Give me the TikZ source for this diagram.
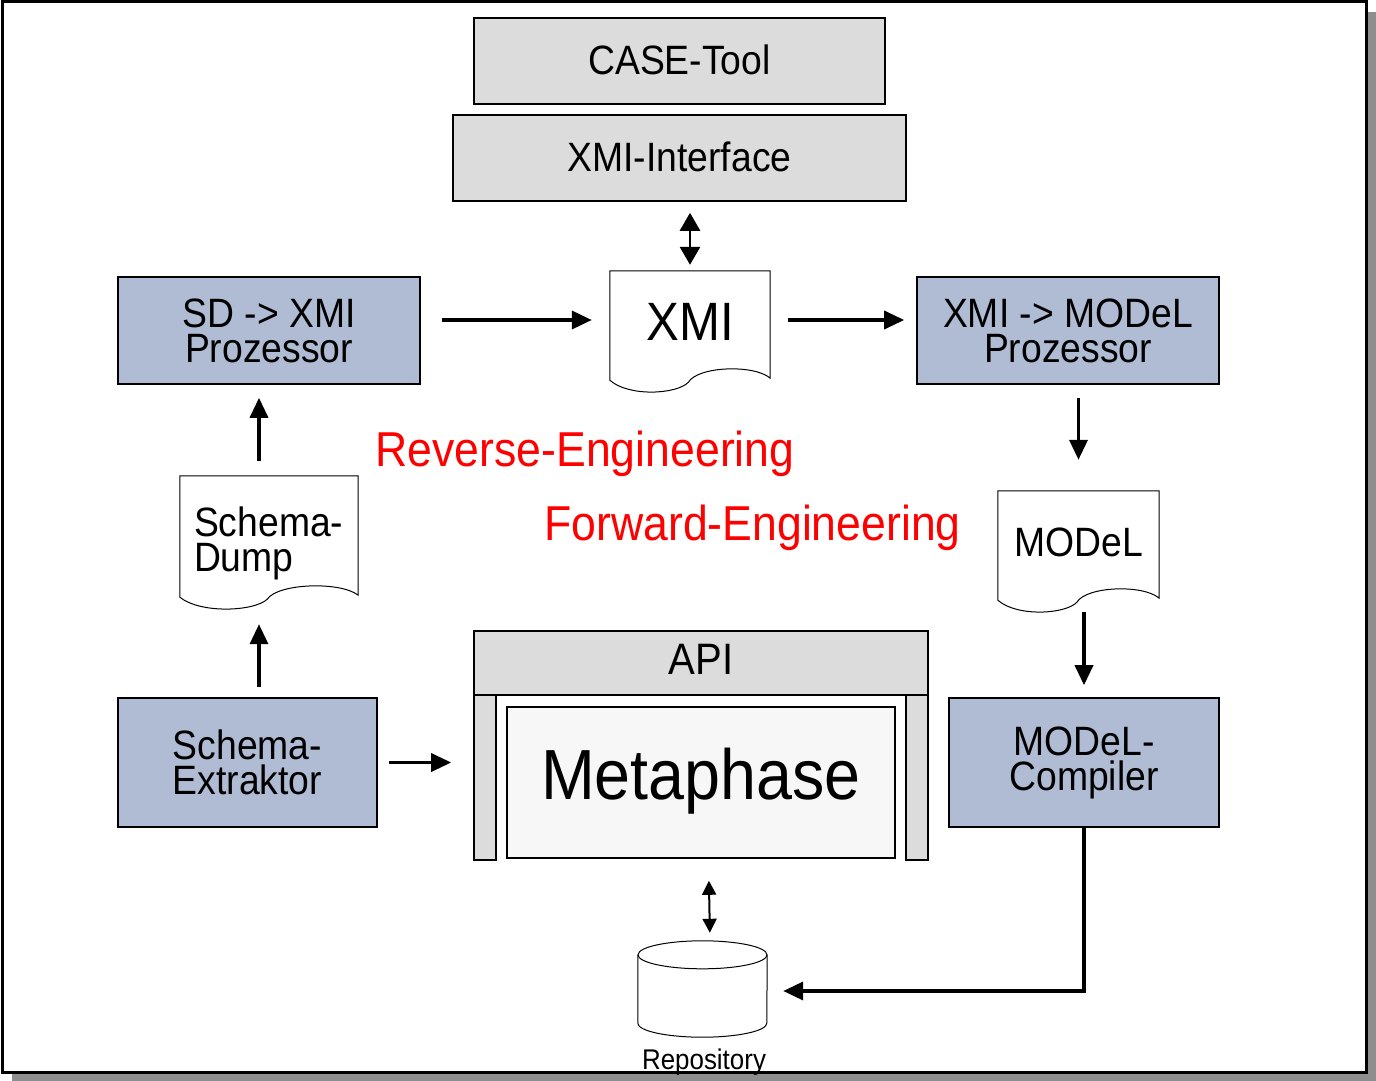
\documentclass[tikz,border=0pt]{standalone}
\usepackage{fontspec}
\setmainfont[FakeStretch=0.91]{Liberation Sans}
\usetikzlibrary{arrows.meta,calc}
\definecolor{boxblue}{HTML}{B0BCD4}
\definecolor{boxgray}{HTML}{DCDCDC}
\definecolor{innergray}{HTML}{F7F7F7}
\definecolor{shadowgray}{HTML}{8E8E8E}
\newcommand\fsz[2]{\fontsize{#1}{#2}\selectfont}
\newcommand\docoutline[1]{%
  \draw[docline] (#1.south west) -- (#1.north west) -- (#1.north east) -- ($(#1.south east)+(0,-2)$)
    .. controls ($(#1.south west)!0.9!(#1.south east)+(0,-16)$) and ($(#1.south west)!0.55!(#1.south east)+(0,-14)$) .. ($(#1.south west)!0.49!(#1.south east)+(0,2)$)
    .. controls ($(#1.south west)!0.42!(#1.south east)+(0,14)$) and ($(#1.south west)!0.12!(#1.south east)+(0,17)$) .. (#1.south west) -- cycle;}
\tikzset{
  box/.style={draw=black, line width=1.6pt, inner sep=0pt, align=center, font=\fsz{41}{35}},
  graybox/.style={box, fill=boxgray},
  bluebox/.style={box, fill=boxblue},
  docnode/.style={inner sep=0pt, align=center, font=\fsz{41}{35}},
  docline/.style={draw=black, line width=1pt},
  arr/.style={line width=3.5pt, -{Triangle[length=20pt,width=18pt]}},
  darr/.style={line width=2.8pt, {Triangle[length=18pt,width=20pt]}-{Triangle[length=18pt,width=20pt]}},
  darrs/.style={line width=2pt, {Triangle[length=14pt,width=14pt]}-{Triangle[length=14pt,width=14pt]}},
  redtext/.style={text=red, inner sep=0pt, font=\fsz{49}{50}},
}
\begin{document}
\begin{tikzpicture}[x=1pt,y=-1pt]
\useasboundingbox (0,0) rectangle (1376,1081);
% frame with shadow
\fill[shadowgray] (12,12) rectangle (1376,1081);
\draw[line width=3pt, fill=white] (2,2) rectangle (1366,1072);

% top boxes
\node[graybox, minimum width=411pt, minimum height=86pt] (case) at (679.5,61) {\raisebox{3pt}{CASE-Tool}};
\node[graybox, minimum width=453pt, minimum height=86pt] (xmiint) at (679.5,158) {\raisebox{3pt}{XMI-Interface}};

% processors
\node[bluebox, minimum width=302pt, minimum height=107pt] (sd) at (269,330.5) {SD -> XMI\\Prozessor};
\node[bluebox, minimum width=302pt, minimum height=107pt] (x2m) at (1068,330.5) {XMI -> MODeL\\Prozessor};

% documents
\node[docnode, minimum width=160pt, minimum height=109pt] (xmi) at (690,325.5) {\fsz{54}{54}\raisebox{8pt}{XMI}};
\docoutline{xmi}
\node[docnode, minimum width=178pt, minimum height=121pt] (dump) at (269,536.5) {\raisebox{-13pt}[0pt][0pt]{\parbox{150pt}{\raggedright Schema-\\Dump}}};
\docoutline{dump}
\node[docnode, minimum width=161pt, minimum height=109pt] (model) at (1078.5,545.5) {\raisebox{7pt}{MODeL}};
\docoutline{model}

% bottom boxes
\node[bluebox, minimum width=259pt, minimum height=129pt] (ext) at (247.5,762.5) {\raisebox{3pt}{\parbox{250pt}{\centering Schema-\\Extraktor}}};
\node[bluebox, minimum width=270pt, minimum height=129pt] (comp) at (1084,762.5) {MODeL-\\Compiler};

% API / Metaphase
\node[graybox, minimum width=454pt, minimum height=64pt, font=\fsz{44}{44}] (api) at (701,663) {\raisebox{7pt}{API}};
\node[graybox, minimum width=22pt, minimum height=165pt] (lpil) at (485,777.5) {};
\node[graybox, minimum width=22pt, minimum height=165pt] (rpil) at (917,777.5) {};
\node[box, fill=innergray, minimum width=388pt, minimum height=151pt, font=\fsz{71}{71}] (meta) at (701,782.5) {\raisebox{18pt}{Metaphase}};

% repository
\node[minimum width=129pt, minimum height=96pt, inner sep=0pt] (repo) at (702.5,989) {};
\draw[line width=1pt, fill=white] ($(repo.north west)+(0,14)$) -- ($(repo.south west)+(0,-14)$)
   arc[start angle=180, end angle=360, x radius=64.5pt, y radius=14pt] -- ($(repo.north east)+(0,14)$);
\draw[line width=1pt] ($(repo.north)+(0,14)$) ellipse [x radius=64.5pt, y radius=14pt];
\node[inner sep=0pt, font=\fsz{28.5}{30}] (repotext) at (704,1062) {Repository};

% red labels
\node[redtext] (rev) at (585,454) {Reverse-Engineering};
\node[redtext] (fwd) at (752.5,528) {Forward-Engineering};

% connectors
\draw[darr, shorten <=11pt, shorten >=6pt] (xmiint.south -| xmi.north) -- (xmi.north);
\draw[arr, shorten <=21pt, shorten >=18pt] ([yshift=10.5pt]sd.east) -- ([yshift=10.5pt]sd.east -| xmi.west);
\draw[arr, shorten <=18pt, shorten >=12pt] ([yshift=5.5pt]xmi.east) -- ([yshift=5.5pt]xmi.east -| x2m.west);
\draw[arr, shorten <=13pt, shorten >=31pt] (x2m.south -| model.north) -- (model.north);
\draw[arr, shorten <=12pt, shorten >=12pt] (model.south -| comp.north) -- (comp.north);
\draw[arr, shorten >=16pt] (comp.south) |- ([yshift=-2pt]repo.east);
\draw[arr, shorten <=11pt, shorten >=22pt] (ext.east) -- (ext.east -| lpil.west);
\draw[arr, shorten <=10pt, shorten >=27pt] ([xshift=11.5pt]ext.north) -- ([xshift=11.5pt]ext.north |- dump.south);
\draw[arr, shorten <=15pt, shorten >=13pt] ([xshift=-10pt]dump.north) -- ([xshift=-10pt]dump.north |- sd.south);
\draw[darrs, shorten <=22pt, shorten >=8pt] ([xshift=7.5pt]meta.south) -- ([xshift=7.5pt]repo.north);
\end{tikzpicture}
\end{document}
